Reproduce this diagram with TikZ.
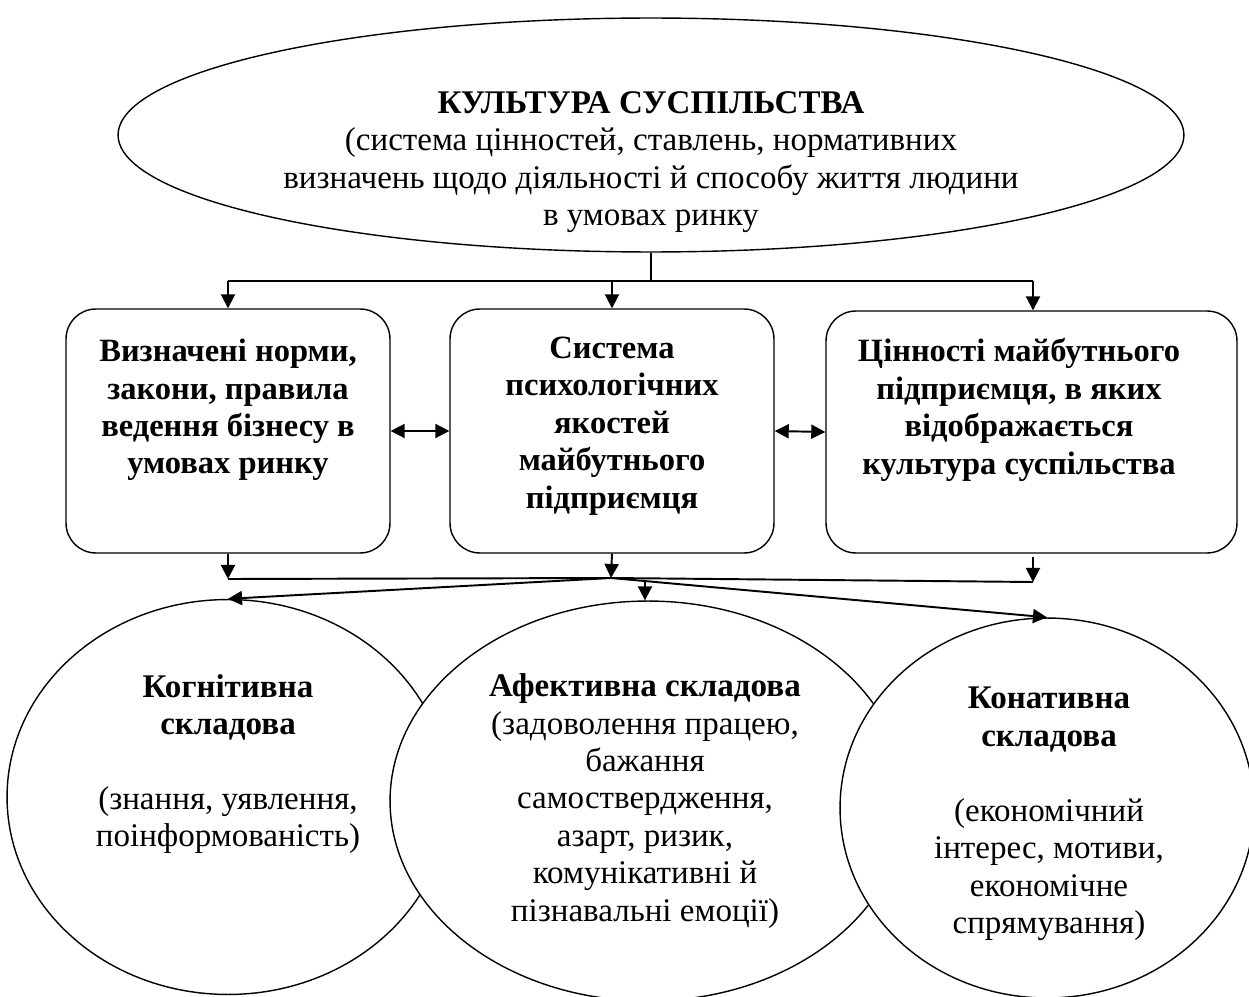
\documentclass[tikz,border=0pt]{standalone}
\usepackage{fontspec}
\setmainfont{Liberation Serif}
\usetikzlibrary{arrows.meta,shapes.geometric}
\tikzset{
  shp/.style={draw=black, line width=0.8pt, fill=white},
  oval/.style={shp, ellipse, inner sep=0pt},
  rbox/.style={shp, rectangle, rounded corners=17pt, inner sep=0pt},
  txt/.style={align=center, inner sep=0pt, font=\fontsize{18.8}{21.3}\selectfont},
  btxt/.style={align=center, inner sep=0pt, font=\fontsize{18.5}{21.3}\selectfont\bfseries},
  conn/.style={line width=1.1pt, -{Triangle[length=8pt,width=8pt]}},
  dconn/.style={line width=1.1pt, {Triangle[length=8pt,width=8pt]}-{Triangle[length=8pt,width=8pt]}},
  plain/.style={line width=1.1pt}
}
\begin{document}
\begin{tikzpicture}[x=0.02cm,y=-0.02cm]
\useasboundingbox (0,0) rectangle (1249,997);
\clip (0,0) rectangle (1249,997);
\fill[white] (0,0) rectangle (1249,997);

% top ellipse
\node[oval, minimum width=21.32cm, minimum height=4.68cm] (top) at (651,135) {};
\node[txt] (toptxt) at (651,162) {\textbf{КУЛЬТУРА СУСПІЛЬСТВА}\\(система цінностей, ставлень, нормативних\\визначень щодо діяльності й способу життя людини\\в умовах ринку};

% boxes
\node[rbox, minimum width=6.48cm, minimum height=4.88cm] (bl) at (228,431) {};
\node[rbox, minimum width=6.48cm, minimum height=4.88cm] (bm) at (612,431) {};
\node[rbox, minimum width=8.22cm, minimum height=4.84cm] (br) at (1031.5,432) {};
\node[btxt] (tl) at (228,410) {Визначені норми,\\закони, правила\\ведення бізнесу в\\умовах ринку};
\node[btxt] (tm) at (612,426) {Система\\психологічних\\якостей\\майбутнього\\підприємця};
\node[btxt] (tr) at (1019,410) {Цінності майбутнього\\підприємця, в яких\\відображається\\культура суспільства};

% circles
\node[oval, minimum width=8.84cm, minimum height=7.9cm] (cl) at (228,797) {};
\node[oval, minimum width=10.32cm, minimum height=8.0cm] (cm) at (648,801) {};
\node[oval, minimum width=8.28cm, minimum height=7.6cm] (cr) at (1047,808) {};
\node[txt] (ctl) at (228,764) {\textbf{Когнітивна}\\\textbf{складова}\\[21.3pt](знання, уявлення,\\поінформованість)};
\node[txt] (ctm) at (645,801) {\textbf{Афективна складова}\\(задоволення працею,\\бажання\\самоствердження,\\азарт, ризик,\\комунікативні й\\пізнавальні емоції)};
\node[txt] (ctr) at (1049,814) {\textbf{Конативна}\\\textbf{складова}\\[21.3pt](економічний\\інтерес, мотиви,\\економічне\\спрямування)};

% top connectors
\coordinate (s0) at (651,281);
\coordinate (s1) at (228,281);
\coordinate (s2) at (612,281);
\coordinate (s3) at (1033,281);
\draw[plain] (top.south) -- (s0);
\draw[plain] (s1) -- (s3);
\draw[conn] (s1) -- (s1 |- bl.north);
\draw[conn] (s2) -- (s2 |- bm.north);
\draw[conn] (s3) -- (s3 |- br.north);

% horizontal double arrows
\draw[dconn] (bl.east) -- (bm.west);
\draw[dconn] (bm.east) -- (br.west);

% bottom connectors
\coordinate (j1) at (228,579);
\coordinate (j0) at (611,578);
\coordinate (j3) at (1033,582);
\coordinate (r3) at (1033,557);
\coordinate (m4) at (645,580);
\draw[conn] (bl.south) -- (j1);
\draw[conn] (bm.south) -- (j0);
\draw[conn] (r3) -- (j3);
\draw[plain] (j1) -- (j0) -- (j3);
\draw[conn] (j0) -- (cl.north);
\draw[conn] (j0) -- (cr.north);
\draw[conn] (m4) -- (m4 |- cm.north);
\end{tikzpicture}
\end{document}
